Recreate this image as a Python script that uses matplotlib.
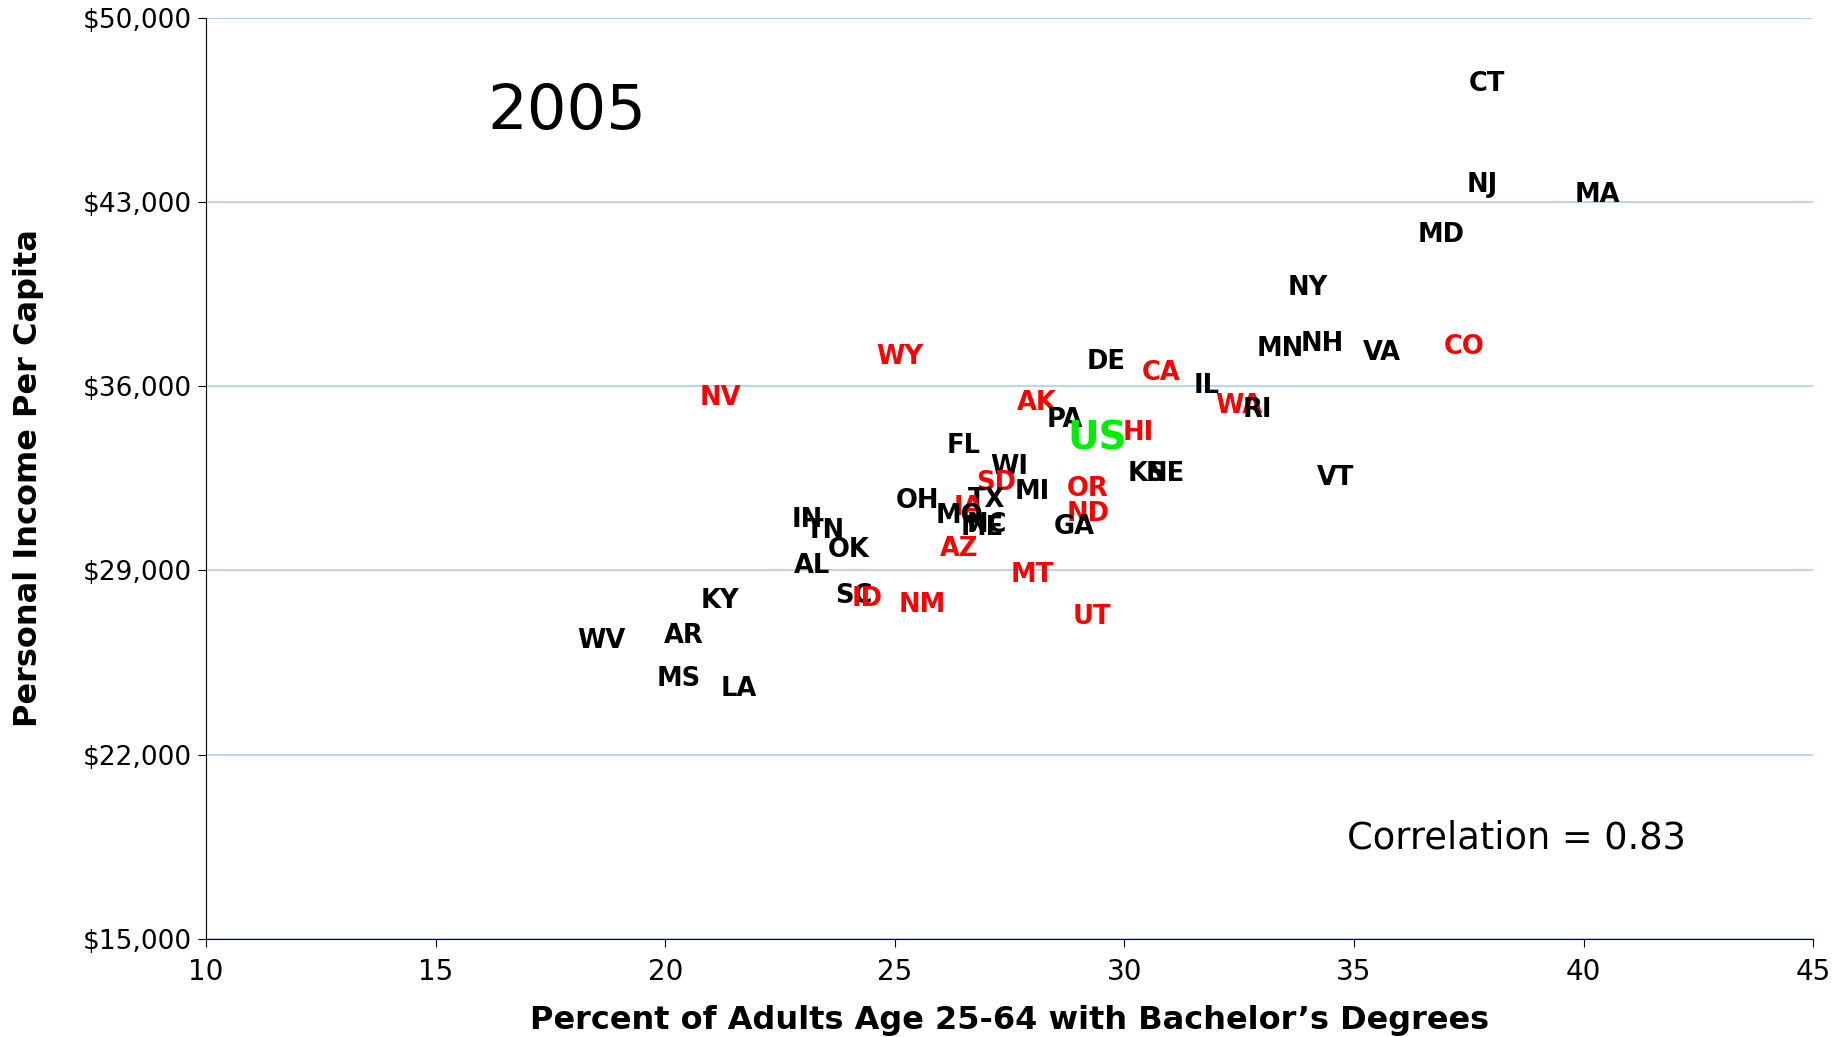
import matplotlib
matplotlib.use("Agg")
import matplotlib.pyplot as plt
import matplotlib.transforms as mtransforms
from matplotlib.ticker import FuncFormatter

# state data
states = ["CT", "NJ", "MA", "MD", "NY", "MN", "NH", "VA", "CO", "DE",
          "CA", "IL", "WA", "RI", "NV", "WY", "AK", "PA", "HI", "FL",
          "WI", "KS", "NE", "VT", "SD", "MI", "OR", "TX", "OH", "IA",
          "IN", "ND", "MO", "NC", "ME", "TN", "GA", "OK", "AZ", "AL",
          "MT", "KY", "SC", "ID", "NM", "UT", "WV", "AR", "MS", "LA"]
bachelors = [37.9, 37.8, 40.3, 36.9, 34.0, 33.4, 34.3, 35.6, 37.4, 29.6,
             30.8, 31.8, 32.5, 32.9, 21.2, 25.1, 28.1, 28.7, 30.3, 26.5,
             27.5, 30.5, 30.9, 34.6, 27.2, 28.0, 29.2, 27.0, 25.5, 26.6,
             23.1, 29.2, 26.4, 27.0, 26.9, 23.5, 28.9, 24.0, 26.4, 23.2,
             28.0, 21.2, 24.1, 24.4, 25.6, 29.3, 18.6, 20.4, 20.3, 21.6]
income = [47540, 43700, 43340, 41820, 39810, 37480, 37660, 37350, 37570, 36990,
          36590, 36100, 35340, 35160, 35610, 37170, 35430, 34800, 34310, 33820,
          33010, 32750, 32750, 32570, 32390, 32070, 32160, 31760, 31720, 31450,
          31000, 31220, 31130, 30820, 30700, 30560, 30730, 29840, 29880, 29260,
          28900, 27920, 28100, 28010, 27780, 27290, 26400, 26580, 24970, 24560]
west = {"AK", "AZ", "CA", "CO", "HI", "IA", "ID", "MT", "ND", "NM",
        "NV", "OR", "SD", "UT", "WA", "WY"}

us_x, us_y = 29.4, 34090

fig = plt.figure(figsize=(18.45, 10.37), dpi=100)
ax = fig.add_axes([0.1117, 0.0945, 0.871, 0.8885])

ax.set_xlim(10, 45)
ax.set_ylim(15000, 50000)

# labels sit a touch low in the original
lbl_tr = mtransforms.offset_copy(ax.transData, fig=fig, x=0, y=-2, units="dots")

for s, x, y in zip(states, bachelors, income):
    col = "#ff0000" if s in west else "black"
    ax.text(x, y, s, color=col, fontsize=18.5, fontweight="bold",
            ha="center", va="center", transform=lbl_tr)
ax.text(us_x, us_y, "US", color="#00ee00", fontsize=28, fontweight="bold",
        ha="center", va="center", transform=lbl_tr)

ax.set_xticks(range(10, 46, 5))
ax.set_yticks(range(15000, 50001, 7000))
ax.yaxis.set_major_formatter(FuncFormatter(lambda v, p: f"${v:,.0f}"))
ax.tick_params(axis="x", labelsize=20, direction="out", length=6, pad=8)
ax.tick_params(axis="y", labelsize=19, direction="out", length=6, pad=4)

ax.grid(axis="y", color="#a8cff5", linewidth=1.2)
ax.set_axisbelow(True)
for side in ["top", "right"]:
    ax.spines[side].set_visible(False)

ax.set_xlabel("Percent of Adults Age 25-64 with Bachelor\u2019s Degrees",
              fontsize=23, fontweight="bold", labelpad=13)
ax.set_ylabel("Personal Income Per Capita", fontsize=23, fontweight="bold",
              labelpad=28)

ax.text(17.85, 46400, "2005", fontsize=45, ha="center", va="center")
ax.text(38.55, 18850, "Correlation = 0.83", fontsize=26.5, ha="center",
        va="center")

fig.savefig("out.png", dpi=100)
